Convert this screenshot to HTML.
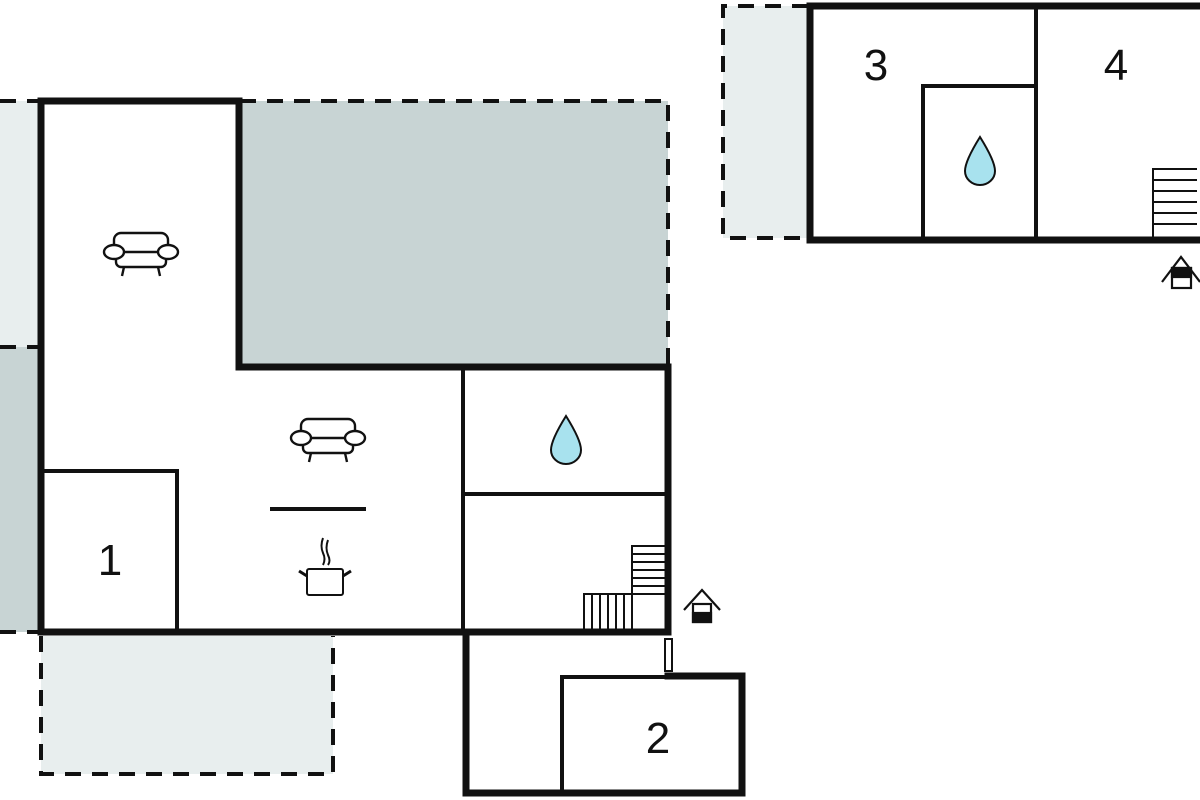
<!DOCTYPE html>
<html><head><style>
html,body{margin:0;padding:0;background:#fff;width:1200px;height:800px;overflow:hidden}
svg{display:block}
text{font-family:"Liberation Sans",sans-serif;fill:#111}
</style></head><body>
<svg width="1200" height="800" viewBox="0 0 1200 800" xmlns="http://www.w3.org/2000/svg">
<!-- patios -->
<rect x="0" y="101" width="38" height="246" fill="#e8eeee"/>
<rect x="0" y="347" width="38" height="285" fill="#c8d4d4"/>
<rect x="240" y="101" width="428" height="266" fill="#c8d4d4"/>
<rect x="41" y="636" width="292" height="138" fill="#e8eeee"/>
<rect x="723" y="6" width="86" height="232" fill="#e8eeee"/>
<g fill="none" stroke="#111" stroke-width="4" stroke-dasharray="16,11">
<path d="M0 101 H38"/><path d="M0 347 H38"/><path d="M0 632 H38"/>
<path d="M240 101 H668 V367"/>
<path d="M41 636 V774 H333 V636"/>
<path d="M808 6 H723 V238 H808"/>
</g>
<!-- main building walls -->
<g fill="none" stroke="#111" stroke-linecap="square">
<path d="M41 101 H239 V367 H668 V632 H41 Z" stroke-width="7"/>
<path d="M44 471 H177 V632" stroke-width="4"/>
<path d="M463 367 V632" stroke-width="4"/>
<path d="M463 494 H666" stroke-width="4"/>
<path d="M272 509 H364" stroke-width="4"/>
<!-- room 2 building -->
<path d="M466 632 V793 H742 V676 H668" stroke-width="7"/>
<path d="M562 793 V677 H668" stroke-width="4"/>
<!-- top right building -->
<path d="M1200 6 H810 V240 H1200" stroke-width="7"/>
<path d="M1036 6 V240" stroke-width="4"/>
<path d="M923 240 V86 H1034" stroke-width="4"/>
</g>
<rect x="665" y="639" width="7" height="32" fill="#fff" stroke="#111" stroke-width="2"/>
<!-- stairs main -->
<g stroke="#111" stroke-width="2" fill="none">
<path d="M632 632 V546 H665"/>
<path d="M584 632 V594 H632"/>
<path d="M632 554H665M632 562H665M632 570H665M632 578H665M632 586H665M632 594H665"/>
<path d="M592 594V630M600 594V630M608 594V630M616 594V630M624 594V630"/>
<!-- stairs top right -->
<path d="M1153 237 V169 H1197"/>
<path d="M1153 180H1197M1153 191H1197M1153 202H1197M1153 213H1197M1153 224H1197"/>
</g>
<!-- sofas -->
<g transform="translate(102,232)" fill="#fff" stroke="#111" stroke-width="2.4">
<rect x="12" y="1" width="54" height="22" rx="7"/>
<rect x="14" y="20" width="50" height="15" rx="5"/>
<ellipse cx="12" cy="20" rx="10" ry="7"/>
<ellipse cx="66" cy="20" rx="10" ry="7"/>
<path d="M22 35 L20 44 M56 35 L58 44" fill="none"/>
</g>
<g transform="translate(289,418)" fill="#fff" stroke="#111" stroke-width="2.4">
<rect x="12" y="1" width="54" height="22" rx="7"/>
<rect x="14" y="20" width="50" height="15" rx="5"/>
<ellipse cx="12" cy="20" rx="10" ry="7"/>
<ellipse cx="66" cy="20" rx="10" ry="7"/>
<path d="M22 35 L20 44 M56 35 L58 44" fill="none"/>
</g>
<!-- pot -->
<g fill="none" stroke="#111" stroke-width="2">
<rect x="307" y="569" width="36" height="26" rx="2" fill="#fff"/>
<path d="M307 576 L299 571 M343 576 L351 571" stroke-width="3"/>
<path d="M323 538 q-3 8 0 15 q3 6 0 12 M328 540 q-3 8 0 15 q3 6 0 10"/>
</g>
<!-- drops -->
<path d="M566 416 C556 432 551 444 551 450 A15 14 0 0 0 581 450 C581 444 576 432 566 416 Z" fill="#a8e2ee" stroke="#111" stroke-width="2"/>
<path d="M980 137 C970 153 965 165 965 171 A15 14 0 0 0 995 171 C995 165 990 153 980 137 Z" fill="#a8e2ee" stroke="#111" stroke-width="2"/>
<!-- house icons -->
<g stroke="#111" stroke-width="2.2" fill="none">
<path d="M684 610 L702 590 L720 610"/>
<rect x="693" y="604" width="18" height="18" fill="#fff"/>
<rect x="693" y="613" width="18" height="9" fill="#111"/>
<path d="M1162 282 L1181 257 L1200 282"/>
<rect x="1172" y="268" width="19" height="20" fill="#fff"/>
<rect x="1172" y="268" width="19" height="9" fill="#111"/>
</g>
<!-- labels -->
<text x="110" y="575" font-size="44" text-anchor="middle">1</text>
<text x="658" y="753" font-size="44" text-anchor="middle">2</text>
<text x="876" y="80" font-size="44" text-anchor="middle">3</text>
<text x="1116" y="80" font-size="44" text-anchor="middle">4</text>
</svg>
</body></html>
